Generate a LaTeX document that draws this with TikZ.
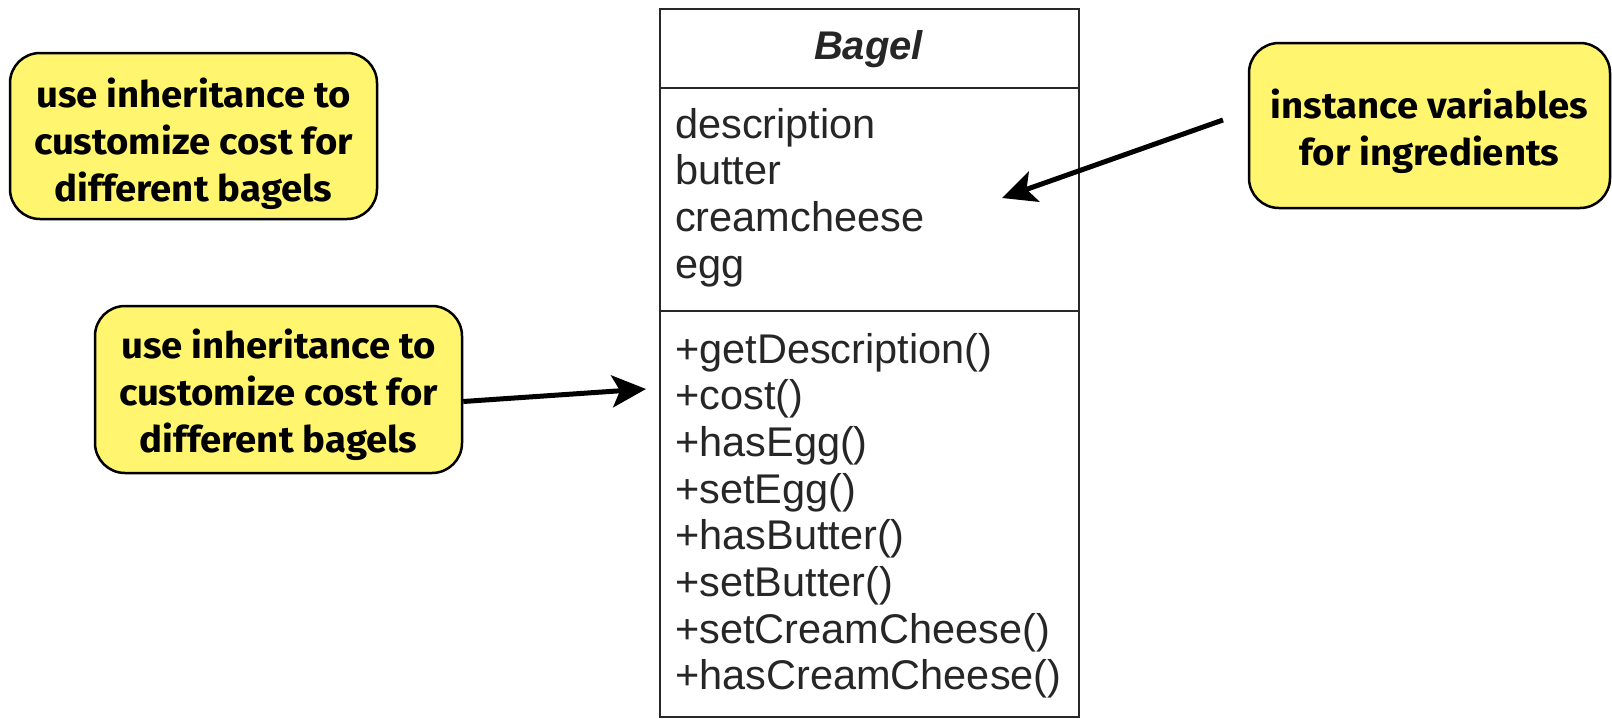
\documentclass[tikz,border=0pt]{standalone}
\usepackage{fontspec}
\setmainfont{Liberation Sans}
\newfontfamily\notefont{Fira Sans}[FakeStretch=1.05]
\usetikzlibrary{arrows.meta}
\definecolor{noteyellow}{RGB}{255,245,110}
\definecolor{umlline}{RGB}{40,40,40}
\begin{document}
\begin{tikzpicture}[x=1pt,y=-1pt,
  note/.style={draw=black, line width=2.5pt, fill=noteyellow, rounded corners=30pt,
    inner sep=0pt},
  notetext/.style={align=center, inner sep=0pt,
    font=\notefont\bfseries\fontsize{36.5}{47}\selectfont},
  compart/.style={draw=umlline, line width=2.2pt, fill=white, inner sep=0pt,
    minimum width=419pt, anchor=north west},
  member/.style={anchor=base west, inner sep=0pt,
    font=\fontsize{41.5}{46.7}\selectfont, text=black!85},
  pointer/.style={line width=5pt, -{Stealth[length=34pt,width=32pt,inset=8pt]}}]

\useasboundingbox (0,0) rectangle (1612,718);

% sticky notes
\node[note, minimum width=367pt, minimum height=166pt] (n1) at (193.5,136) {};
\node[notetext] (n1t) at ([yshift=-7.5pt]n1.center)
  {use inheritance to\\customize cost for\\different bagels};
\node[note, minimum width=367pt, minimum height=167pt] (n2) at (278.5,389.5) {};
\node[notetext] (n2t) at ([yshift=-5pt]n2.center)
  {use inheritance to\\customize cost for\\different bagels};
\node[note, minimum width=361pt, minimum height=165pt] (n3) at (1429.5,125.5) {};
\node[notetext] (n3t) at ([yshift=-6pt]n3.center)
  {instance variables\\for ingredients};

% class box: name, attributes, operations
\node[compart, minimum height=79pt]  (head)  at (659,8) {};
\node[compart, minimum height=223pt] (attrs) at (659,87) {};
\node[compart, minimum height=406pt] (ops)   at (659,310) {};

\node[anchor=base, inner sep=0pt, text=black!85,
  font=\bfseries\itshape\fontsize{40}{46}\selectfont] (title) at (868.5,59) {Bagel};

\foreach \t [count=\i] in {description,butter,creamcheese,egg}
  \node[member] (attr\i) at (675,{138+46.7*(\i-1)}) {\t};

\foreach \t [count=\i] in {+getDescription(),+cost(),+hasEgg(),+setEgg(),
    +hasButter(),+setButter(),+setCreamCheese(),+hasCreamCheese()}
  \node[member] (op\i) at (675,{363+46.7*(\i-1)}) {\t};

% pointers
\coordinate (a1s) at (1223,120);
\coordinate (a1e) at (1002,198);
\draw[pointer] (a1s) -- (a1e);

\coordinate (a2e) at (646,389);
\draw[pointer] ([yshift=-12pt]n2.east) -- (a2e);
\end{tikzpicture}
\end{document}
